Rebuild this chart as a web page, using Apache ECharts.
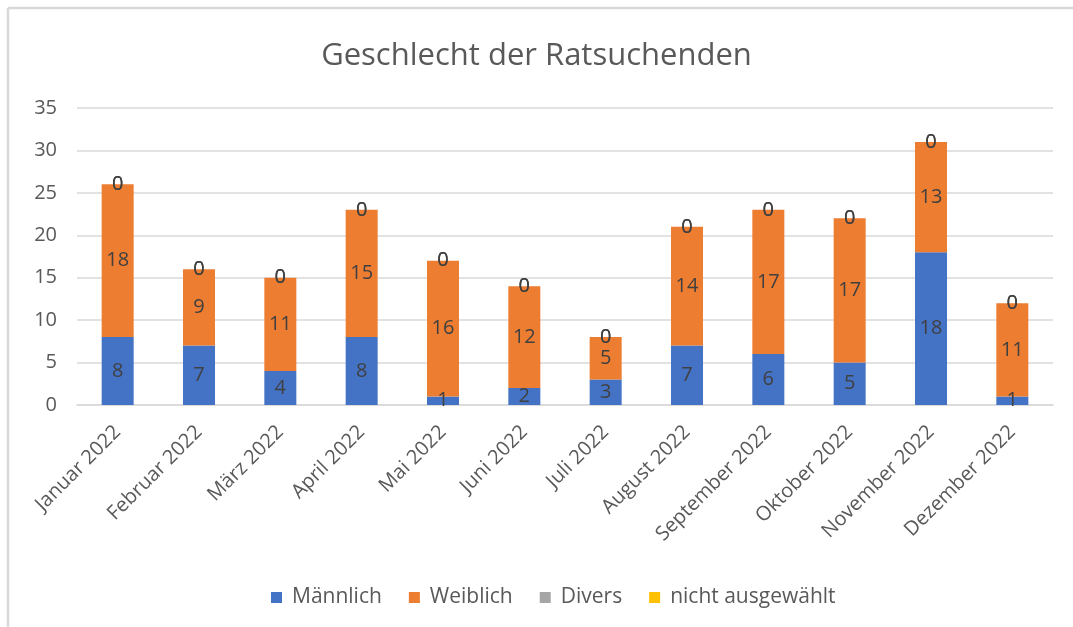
<!DOCTYPE html>
<html>
<head>
<meta charset="utf-8">
<script src="https://cdn.jsdelivr.net/npm/echarts@6/dist/echarts.min.js"></script>
<style>
html,body{margin:0;padding:0;background:#fff;}
#chart{width:1073px;height:627px;}
</style>
</head>
<body>
<div id="chart"></div>
<script>
const categories = ["Januar 2022","Februar 2022","März 2022","April 2022","Mai 2022","Juni 2022","Juli 2022","August 2022","September 2022","Oktober 2022","November 2022","Dezember 2022"];
const maennlich = [8,7,4,8,1,2,3,7,6,5,18,1];
const weiblich = [18,9,11,15,16,12,5,14,17,17,13,11];
const divers = [0,0,0,0,0,0,0,0,0,0,0,0];
const nichtAusgewaehlt = [0,0,0,0,0,0,0,0,0,0,0,0];
const seriesNames = ["Männlich","Weiblich","Divers","nicht ausgewählt"];
const colors = ["#4472C4","#ED7D31","#A5A5A5","#FFC000"];

const FONT = "Open Sans";
const chart = echarts.init(document.getElementById('chart'));
const labelStyle = {show:true, position:'inside', color:'#404040', fontSize:20, fontFamily:FONT};
function mk(name, data, color){
  return {name, type:'bar', stack:'total', data, barWidth:32,
    itemStyle:{color}, label:labelStyle, emphasis:{disabled:true}};
}
chart.setOption({
  animation:false,
  textStyle:{fontFamily:FONT},
  title:{text:'Geschlecht der Ratsuchenden', left:'center', top:36,
    textStyle:{fontFamily:FONT, fontSize:31, fontWeight:'normal', color:'#595959'}},
  grid:{left:77, right:20, top:108, bottom:222},
  legend:{bottom:14, left:266, itemWidth:11, itemHeight:11, itemGap:27,
    icon:'rect', data:seriesNames,
    textStyle:{fontFamily:FONT, fontSize:21, color:'#595959', padding:[0,0,0,5]}},
  xAxis:{type:'category', data:categories,
    axisLine:{show:true, lineStyle:{color:'#d9d9d9', width:1.5}},
    axisTick:{show:false},
    axisLabel:{rotate:45, interval:0, margin:24, color:'#595959', fontSize:20, fontFamily:FONT}},
  yAxis:{type:'value', min:0, max:35, interval:5,
    axisLine:{show:false}, axisTick:{show:false},
    splitLine:{lineStyle:{color:'#d9d9d9', width:1.5}},
    axisLabel:{margin:20, color:'#595959', fontSize:20, fontFamily:FONT}},
  series:[
    mk(seriesNames[0], maennlich, colors[0]),
    mk(seriesNames[1], weiblich, colors[1]),
    mk(seriesNames[2], divers, colors[2]),
    mk(seriesNames[3], nichtAusgewaehlt, colors[3])
  ],
  graphic:[
    {type:'line', shape:{x1:8, y1:8, x2:8, y2:627}, style:{stroke:'#d9d9d9', lineWidth:2.5}},
    {type:'line', shape:{x1:8, y1:8, x2:1073, y2:8}, style:{stroke:'#d9d9d9', lineWidth:2.5}}
  ]
});
</script>
</body>
</html>
